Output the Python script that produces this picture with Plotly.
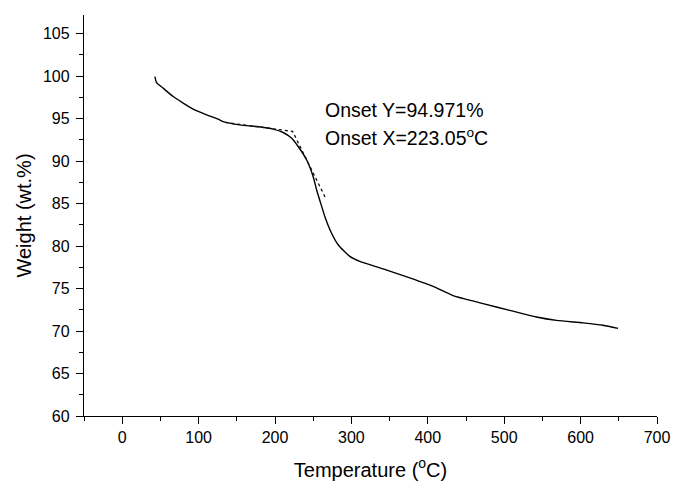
import plotly.graph_objects as go

# TGA curve: temperature (°C) vs. residual weight (wt.%)
temperature = [42.8, 45.0, 53.6, 66.7, 79.8, 92.9, 110.4, 125.6, 132.1, 154.0,
               175.8, 197.6, 210.7, 221.6, 230.3, 241.3, 249.9, 254.4, 260.0,
               265.2, 273.9, 282.6, 297.9, 311.0, 341.5, 376.4, 406.9, 433.1,
               472.3, 507.2, 542.2, 568.4, 603.2, 629.3, 649.0]
weight = [99.95, 99.25, 98.59, 97.60, 96.83, 96.12, 95.45, 94.94, 94.66, 94.27,
          94.07, 93.77, 93.37, 92.71, 91.72, 90.16, 88.20, 86.63, 85.00,
          83.49, 81.54, 80.16, 78.79, 78.20, 77.31, 76.25, 75.26, 74.17,
          73.23, 72.44, 71.66, 71.26, 70.96, 70.68, 70.32]

# Onset construction: baseline tangent and steepest-descent tangent
onset_x = 223.05
onset_y_label = 94.971
baseline_x = [135.0, onset_x]
baseline_y = [94.55, 93.5]
descent_x = [onset_x, 267.0]
descent_y = [93.5, 85.5]

FONT = "Liberation Sans, Arial, Helvetica, sans-serif"

fig = go.Figure()
fig.add_trace(go.Scatter(
    x=temperature, y=weight, mode="lines",
    line=dict(color="black", width=1.4, shape="spline", smoothing=0.6),
    showlegend=False, hoverinfo="skip"))
fig.add_trace(go.Scatter(
    x=baseline_x + descent_x[1:], y=baseline_y + descent_y[1:], mode="lines",
    line=dict(color="#111111", width=1.3, dash="dot"),
    showlegend=False, hoverinfo="skip"))

fig.add_annotation(x=263, y=96.05, xref="x", yref="y",
                   text=f"Onset Y={onset_y_label}%", showarrow=False,
                   xanchor="left", yanchor="middle",
                   font=dict(family=FONT, size=19.5, color="black"))
fig.add_annotation(x=263, y=92.85, xref="x", yref="y",
                   text=f"Onset X={onset_x}<sup>o</sup>C", showarrow=False,
                   xanchor="left", yanchor="middle",
                   font=dict(family=FONT, size=19.5, color="black"))

axis_common = dict(
    showline=True, linecolor="black", linewidth=1.3,
    ticks="outside", ticklen=7, tickwidth=1.2, tickcolor="black",
    showgrid=False, zeroline=False, mirror=False, automargin=False,
    tickfont=dict(family=FONT, size=16, color="black"),
)

fig.update_xaxes(
    range=[-50, 700], tick0=0, dtick=100,
    minor=dict(ticks="outside", ticklen=4, tickwidth=1.2, tickcolor="black",
               dtick=50, tick0=0, showgrid=False),
    title=dict(text="Temperature (<sup>o</sup>C)",
               font=dict(family=FONT, size=20, color="black"), standoff=17),
    **axis_common)
fig.update_yaxes(
    range=[60, 107.2], tick0=60, dtick=5,
    minor=dict(ticks="outside", ticklen=4, tickwidth=1.2, tickcolor="black",
               dtick=2.5, tick0=60, showgrid=False),
    ticklabelstandoff=3,
    title=dict(text="Weight (wt.%)",
               font=dict(family=FONT, size=20, color="black"), standoff=5),
    **axis_common)

fig.update_layout(
    width=673, height=486,
    margin=dict(l=84, r=16, t=15, b=70, autoexpand=False),
    paper_bgcolor="white", plot_bgcolor="white",
)

fig.write_html("out.html")
